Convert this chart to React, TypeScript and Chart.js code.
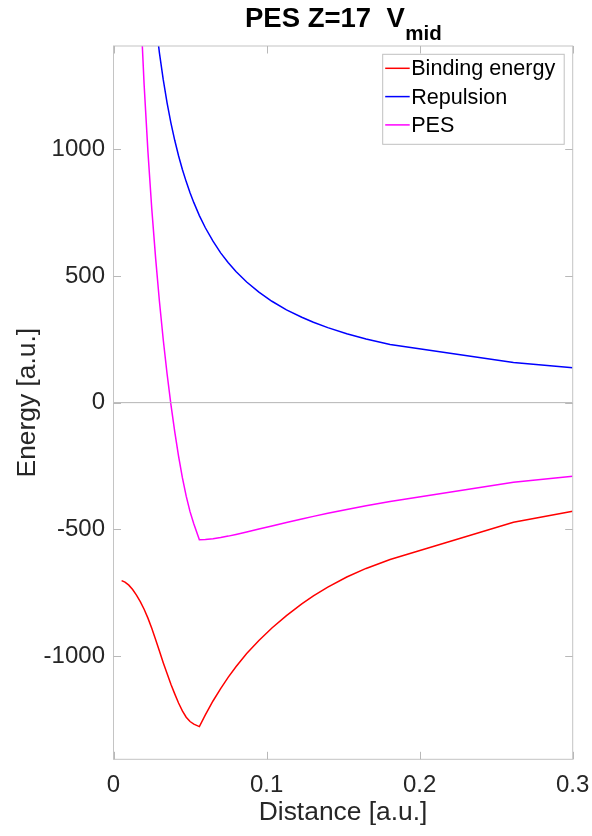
import React, { useEffect, useRef } from "react";
import { Chart, registerables } from "chart.js";
Chart.register(...registerables);

// ---- data ----
const distance = [0.0053, 0.0075, 0.01, 0.0125, 0.015, 0.0175, 0.02, 0.0225, 0.025, 0.0275, 0.03, 0.0325, 0.035, 0.0375, 0.04, 0.0425, 0.045, 0.0475, 0.05, 0.0525, 0.0561, 0.06, 0.065, 0.07, 0.075, 0.08, 0.087, 0.095, 0.1035, 0.113, 0.123, 0.1306, 0.14, 0.1524, 0.165, 0.1807, 0.2613, 0.3];
const bindingEnergy = [-702, -708, -720, -737, -759, -785, -815, -850, -890, -934, -980, -1026, -1069, -1111, -1149, -1185, -1216, -1241, -1258, -1268, -1278, -1232, -1177, -1128, -1083, -1042, -990, -938, -889, -840, -794, -762, -728, -688, -654, -619, -472, -428];
const repulsion = [7810, 5520, 4140, 3310, 2760, 2365, 2070, 1840, 1655, 1505, 1380, 1274, 1183, 1104, 1035, 974, 920, 872, 828, 789, 738, 690, 637, 591, 552, 517, 476, 436, 400, 366, 337, 317, 296, 272, 251, 229, 158, 138];
const pes = [7108, 4812, 3420, 2573, 2001, 1580, 1255, 990, 765, 571, 400, 248, 114, -7, -114, -211, -296, -369, -430, -479, -541, -540, -537, -532.3, -526.5, -520, -510.2, -498.6, -486.3, -472.8, -458.9, -448.6, -436.5, -421.4, -407, -390.4, -314, -290];
const zeroLineX = [0, 0.3];
const zeroLineY = [0, 0];
const seriesLabels = ["Binding energy", "Repulsion", "PES"];
const seriesColors = ["#ff0000", "#0000ff", "#ff00ff"];
const xTicks = [0, 0.1, 0.2, 0.3];
const yTicks = [-1000, -500, 0, 500, 1000];
const xRange = [0, 0.3];
const yRange = [-1407, 1407];
const titleMain = "PES Z=17  V";
const titleSub = "mid";
const xLabel = "Distance [a.u.]";
const yLabel = "Energy [a.u.]";

const FONT = "'Liberation Sans', Arial, Helvetica, sans-serif";

const pts = (xs: number[], ys: number[]) => xs.map((x, i) => ({ x, y: ys[i] }));

const decoPlugin = {
  id: "deco",
  afterDatasetsDraw(chart: any) {
    const { ctx, chartArea: a, scales } = chart;
    const xs = scales.x, ys = scales.y;
    ctx.save();
    // box
    ctx.strokeStyle = "#c4c4c4";
    ctx.lineWidth = 1;
    ctx.strokeRect(a.left, a.top, a.right - a.left, a.bottom - a.top);
    // inward ticks
    const tl = 7.5;
    ctx.strokeStyle = "#b8b8b8";
    ctx.beginPath();
    xTicks.forEach((v) => {
      const p = Math.round(xs.getPixelForValue(v)) + 0.5;
      ctx.moveTo(p, a.bottom); ctx.lineTo(p, a.bottom - tl);
      ctx.moveTo(p, a.top); ctx.lineTo(p, a.top + tl);
    });
    yTicks.forEach((v) => {
      const p = Math.round(ys.getPixelForValue(v)) + 0.5;
      ctx.moveTo(a.left, p); ctx.lineTo(a.left + tl, p);
      ctx.moveTo(a.right, p); ctx.lineTo(a.right - tl, p);
    });
    ctx.stroke();

    // legend
    const lw = 181.5, lh = 90;
    const lx = a.right - 8.5 - lw, ly = a.top + 8.3;
    ctx.fillStyle = "#ffffff";
    ctx.fillRect(lx, ly, lw, lh);
    ctx.strokeStyle = "#c0c0c0";
    ctx.strokeRect(lx, ly, lw, lh);
    ctx.font = `21.6px ${FONT}`;
    ctx.textBaseline = "middle";
    ctx.textAlign = "left";
    const sets = chart.data.datasets.filter((d: any) => !d.hideInLegend);
    sets.forEach((d: any, i: number) => {
      const y = ly + 14 + i * 28.3;
      ctx.strokeStyle = d.borderColor;
      ctx.lineWidth = 1.5;
      ctx.beginPath();
      ctx.moveTo(lx + 2.5, y); ctx.lineTo(lx + 27, y);
      ctx.stroke();
      ctx.fillStyle = "#000000";
      ctx.fillText(d.label, lx + 28.5, y + 1);
    });

    // title
    const cx = (a.left + a.right) / 2;
    ctx.fillStyle = "#000000";
    ctx.textBaseline = "alphabetic";
    const mainFont = `bold 27.5px ${FONT}`;
    const subFont = `bold 20.5px ${FONT}`;
    ctx.font = mainFont;
    const wm = ctx.measureText(titleMain).width;
    ctx.font = subFont;
    const ws = ctx.measureText(titleSub).width;
    const x0 = cx - (wm + ws) / 2;
    ctx.font = mainFont;
    ctx.fillText(titleMain, x0, 26.5);
    ctx.font = subFont;
    ctx.fillText(titleSub, x0 + wm + 0.5, 39.5);
    ctx.restore();
  },
};

export default function App() {
  const ref = useRef<HTMLCanvasElement>(null);
  useEffect(() => {
    document.body.style.margin = "0";
    const canvas = ref.current!;
    const ds = (label: string, ys: number[], color: string) => ({
      label,
      data: pts(distance, ys),
      borderColor: color,
      backgroundColor: color,
      borderWidth: 1.5,
      pointRadius: 0,
      tension: 0,
      fill: false,
      clip: 0,
    });
    const chart = new Chart(canvas, {
      type: "line",
      data: {
        datasets: [
          {
            label: "zero",
            hideInLegend: true,
            data: pts(zeroLineX, zeroLineY),
            borderColor: "#b4b4b4",
            borderWidth: 1,
            pointRadius: 0,
            clip: 0,
          } as any,
          ds(seriesLabels[0], bindingEnergy, seriesColors[0]),
          ds(seriesLabels[1], repulsion, seriesColors[1]),
          ds(seriesLabels[2], pes, seriesColors[2]),
        ],
      },
      options: {
        animation: false,
        responsive: false,
        devicePixelRatio: 1,
        layout: { padding: { top: 46, right: 19.3, left: 0, bottom: 0 } },
        plugins: { legend: { display: false }, title: { display: false }, tooltip: { enabled: false } },
        scales: {
          x: {
            type: "linear",
            min: xRange[0],
            max: xRange[1],
            afterBuildTicks: (s: any) => { s.ticks = xTicks.map((v) => ({ value: v })); },
            afterFit: (s: any) => { s.height = 76.7; s.paddingLeft = 0; s.paddingRight = 0; },
            grid: { display: false, drawTicks: false },
            border: { display: false },
            ticks: {
              color: "#262626",
              font: { family: FONT, size: 24 },
              padding: 12,
              maxRotation: 0,
              autoSkip: false,
              callback: (v: any) => String(Math.round(Number(v) * 10) / 10),
            },
            title: {
              display: true,
              text: xLabel,
              color: "#262626",
              font: { family: FONT, size: 26.4 },
              padding: { top: 0, bottom: 7.5 },
            },
          },
          y: {
            type: "linear",
            min: yRange[0],
            max: yRange[1],
            afterBuildTicks: (s: any) => { s.ticks = yTicks.map((v) => ({ value: v })); },
            afterFit: (s: any) => { s.width = 113.5; s.paddingTop = 0; s.paddingBottom = 0; },
            grid: { display: false, drawTicks: false },
            border: { display: false },
            ticks: {
              color: "#262626",
              font: { family: FONT, size: 24 },
              padding: 8.5,
              autoSkip: false,
              callback: (v: any) => String(v),
            },
            title: {
              display: true,
              text: yLabel,
              color: "#262626",
              font: { family: FONT, size: 26.4 },
              padding: { top: 11.5, bottom: 0 },
            },
          },
        },
      } as any,
      plugins: [decoPlugin],
    });
    return () => chart.destroy();
  }, []);
  return (
    <div style={{ width: 592, height: 836 }}>
      <canvas ref={ref} width={592} height={836} style={{ display: "block" }} />
    </div>
  );
}
